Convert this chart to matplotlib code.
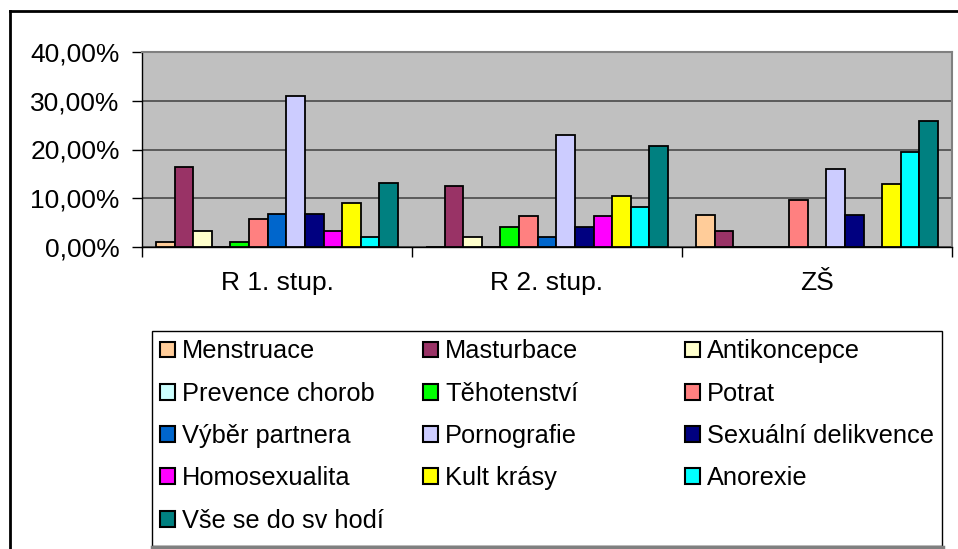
import matplotlib
matplotlib.use("Agg")
import matplotlib.pyplot as plt
import numpy as np
from matplotlib.patches import Patch, Rectangle
from matplotlib.lines import Line2D
from matplotlib.ticker import FuncFormatter, FixedLocator

plt.rcParams['font.family'] = ['Liberation Sans', 'DejaVu Sans']

categories = ["R 1. stup.", "R 2. stup.", "ZŠ"]
series_names = ["Menstruace", "Masturbace", "Antikoncepce", "Prevence chorob",
                "Těhotenství", "Potrat", "Výběr partnera", "Pornografie",
                "Sexuální delikvence", "Homosexualita", "Kult krásy",
                "Anorexie", "Vše se do sv hodí"]
colors = ["#FFCC99", "#993366", "#FFFFCC", "#CCFFFF", "#00FF00", "#FF8080",
          "#0066CC", "#CCCCFF", "#000080", "#FF00FF", "#FFFF00", "#00FFFF",
          "#008080"]

r1 = [1.1, 16.5, 3.3, 0.0, 1.1, 5.8, 6.7, 30.9, 6.7, 3.3, 9.1, 2.1, 13.2]
r2 = [0.0, 12.5, 2.1, 0.0, 4.2, 6.3, 2.1, 22.9, 4.2, 6.3, 10.4, 8.3, 20.8]
zs = [6.5, 3.2, 0.0, 0.0, 0.0, 9.7, 0.0, 16.1, 6.5, 0.0, 12.9, 19.4, 25.8]

values = np.array([r1, r2, zs]) / 100.0

W, H = 958, 549
FS = 19
LFS = 18.3
fig = plt.figure(figsize=(W / 100, H / 100), dpi=100)
ax = fig.add_axes([142 / W, 1 - 247 / H, (952 - 142) / W, (247 - 52) / H])
ax.set_facecolor("#C0C0C0")

n = len(series_names)
slots = n + 1.5
bw = 1.0 / slots
x = np.arange(len(categories))
for i in range(n):
    off = -0.5 + (0.75 + i + 0.5) * bw
    ax.bar(x + off, values[:, i], width=bw, color=colors[i],
           edgecolor="black", linewidth=1.3, zorder=3, label=series_names[i])

ax.set_xlim(-0.5, len(categories) - 0.5)
ax.set_ylim(0, 0.40)
ax.yaxis.set_major_locator(FixedLocator([0, 0.1, 0.2, 0.3, 0.4]))
ax.yaxis.set_major_formatter(FuncFormatter(lambda v, p: f"{v*100:.2f}".replace(".", ",") + "%"))
ax.grid(axis="y", color="#4A4A4A", linewidth=1.2, zorder=1)
ax.set_axisbelow(True)

ax.set_xticks(x)
ax.set_xticklabels(categories)
ax.set_xticks(np.arange(len(categories) + 1) - 0.5, minor=True)
ax.tick_params(axis="x", which="major", length=0, pad=17, labelsize=FS)
ax.tick_params(axis="x", which="minor", length=7, width=1, direction="out", color="black")
ax.tick_params(axis="y", length=7, width=1, direction="out", labelsize=FS, pad=9)

for s in ["top", "right"]:
    ax.spines[s].set_color("#808080")
    ax.spines[s].set_linewidth(1.5)
for s in ["left", "bottom"]:
    ax.spines[s].set_color("black")
    ax.spines[s].set_linewidth(1.0)

# outer chart border (left and top visible)
fig.add_artist(Line2D([9.5 / W, 9.5 / W], [0, 1 - 10.5 / H], transform=fig.transFigure,
                      color="black", linewidth=2.0))
fig.add_artist(Line2D([9.5 / W, 1.0], [1 - 10.5 / H, 1 - 10.5 / H], transform=fig.transFigure,
                      color="black", linewidth=2.0))

# legend frame
lx0, ly0, lx1, ly1 = 152, 331, 942, 546
fig.add_artist(Rectangle((lx0 / W, 1 - ly1 / H), (lx1 - lx0) / W, (ly1 - ly0) / H,
                         transform=fig.transFigure, facecolor="white",
                         edgecolor="black", linewidth=1.0, zorder=1))
fig.add_artist(Line2D([lx0 / W, (lx1 + 1) / W], [1 - (ly1 + 1) / H, 1 - (ly1 + 1) / H],
                      transform=fig.transFigure, color="#808080", linewidth=2.5, zorder=2))

handles = [Patch(facecolor=colors[i], edgecolor="black", linewidth=1.5) for i in range(n)]
col_x = [151, 414, 676]
for c in range(3):
    idx = list(range(c, n, 3))
    fig.legend([handles[i] for i in idx], [series_names[i] for i in idx],
               ncol=1, loc="upper left",
               bbox_to_anchor=(col_x[c] / W, 1 - (ly0 - 1) / H), borderaxespad=0,
               fontsize=LFS, frameon=False,
               handlelength=0.58, handleheight=0.58, handletextpad=0.28,
               labelspacing=0.72, borderpad=0.37)

fig.savefig("out.png", dpi=100)
